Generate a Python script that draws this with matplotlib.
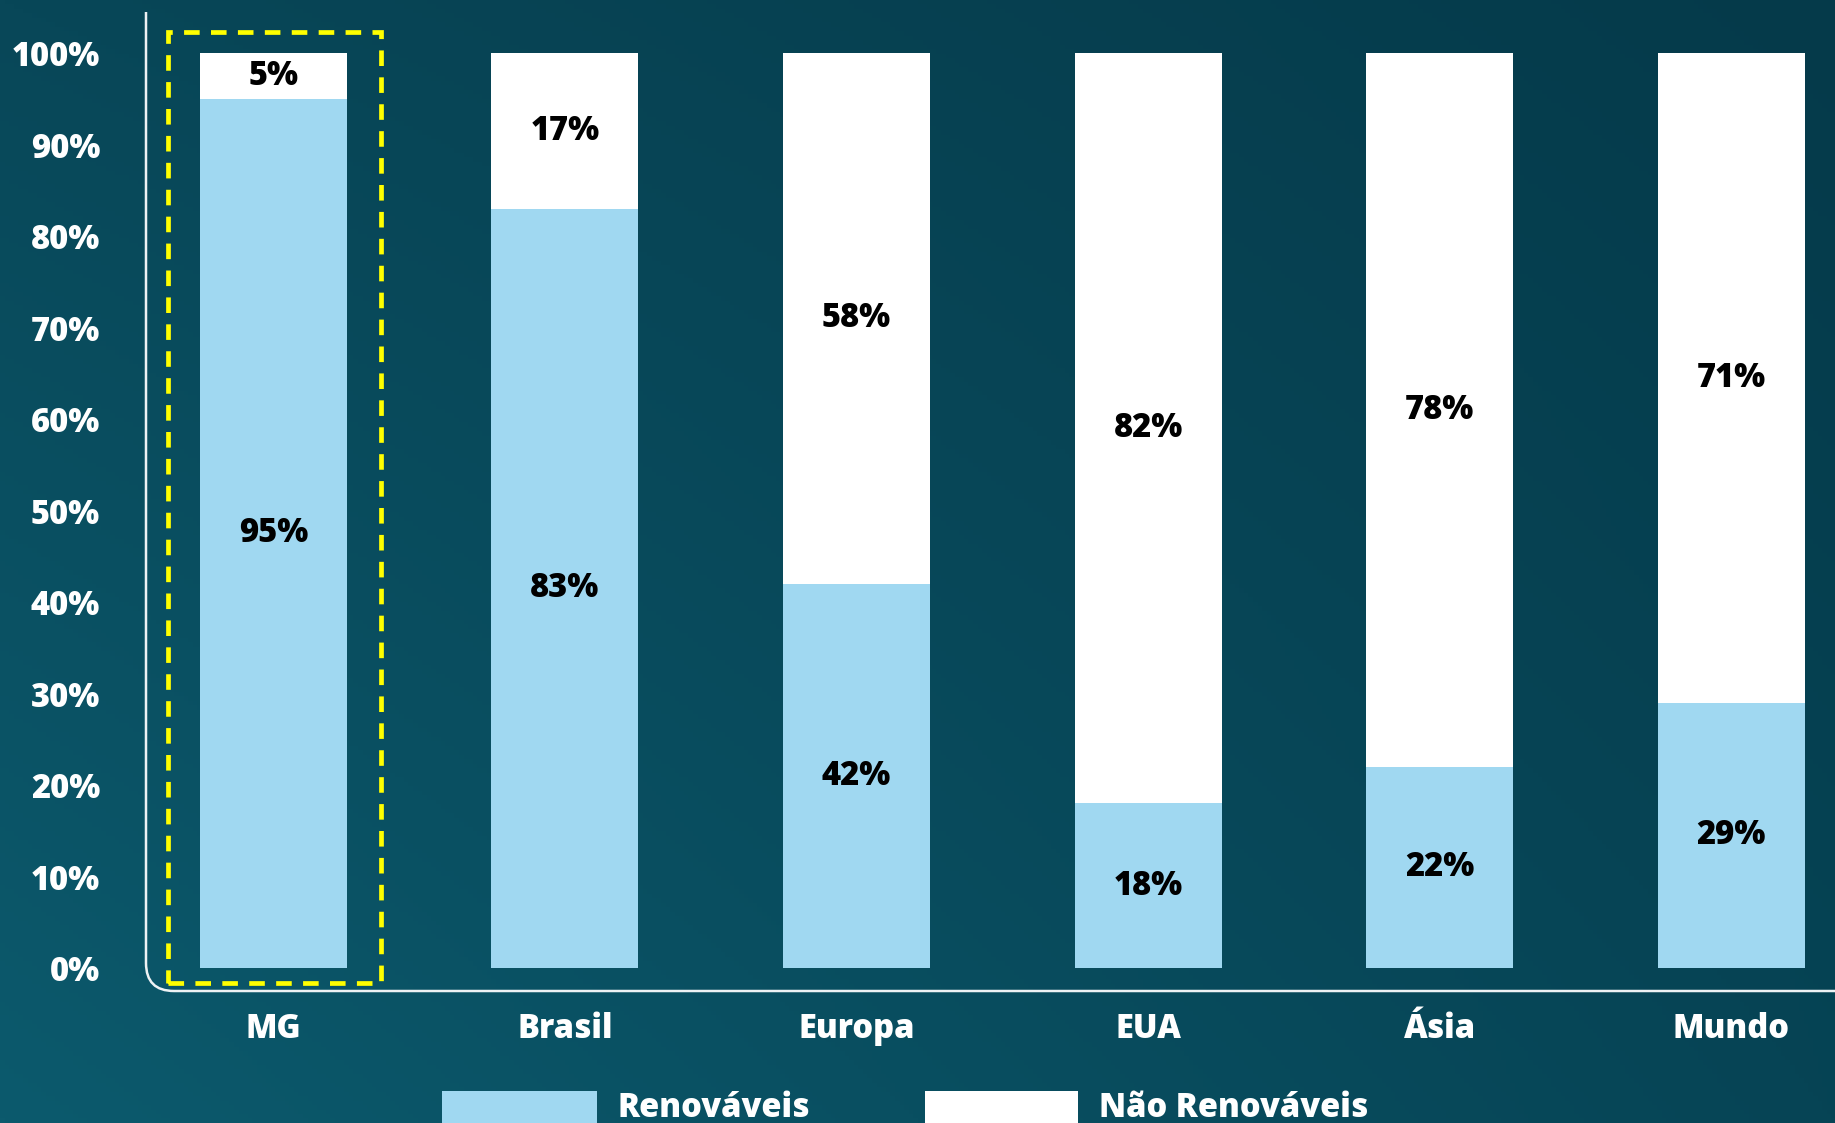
import numpy as np
import matplotlib.pyplot as plt
from matplotlib.patches import Rectangle, PathPatch
from matplotlib.path import Path

regions = ['MG', 'Brasil', 'Europa', 'EUA', 'Ásia', 'Mundo']
renovaveis = [95, 83, 42, 18, 22, 29]
nao_renovaveis = [5, 17, 58, 82, 78, 71]
yticks = list(range(0, 101, 10))

BLUE = '#a0d8f1'
FONT = ['Open Sans', 'DejaVu Sans']
FS = 23.5

W, H = 1835, 1123
fig = plt.figure(figsize=(W / 100, H / 100), dpi=100)


def fx(x):
    return x / W


def fy(y):
    return 1 - y / H


# teal background, darker toward the top right
bg = fig.add_axes([0, 0, 1, 1], zorder=-10)
gx, gy = np.meshgrid(np.linspace(0, 1, 400), np.linspace(0, 1, 250))
tl = np.array([0x08, 0x47, 0x58]) / 255
tr = np.array([0x05, 0x3a, 0x4a]) / 255
bl = np.array([0x0c, 0x5a, 0x6d]) / 255
br = np.array([0x06, 0x44, 0x55]) / 255
img = ((1 - gx)[..., None] * (1 - gy)[..., None] * tl + gx[..., None] * (1 - gy)[..., None] * tr
       + (1 - gx)[..., None] * gy[..., None] * bl + gx[..., None] * gy[..., None] * br)
bg.imshow(img, aspect='auto', extent=[0, 1, 0, 1], origin='upper')
bg.axis('off')

ax = fig.add_axes([fx(146), fy(991), 1 - fx(146), fy(12) - fy(991)])
ax.patch.set_alpha(0)
for s in ax.spines.values():
    s.set_visible(False)

x = np.arange(len(regions))
ax.bar(x, renovaveis, width=0.504, color=BLUE, linewidth=0)
ax.bar(x, nao_renovaveis, bottom=renovaveis, width=0.504, color='white', linewidth=0)
ax.set_xlim(-0.4366, 5.356)
ax.set_ylim(-2.51, 104.5)

for i in x:
    r, n = renovaveis[i], nao_renovaveis[i]
    ax.text(i, r / 2, f'{r}%', ha='center', va='center', fontsize=FS,
            fontweight=800, family=FONT, color='black')
    ax.text(i, r + n / 2, f'{n}%', ha='center', va='center', fontsize=FS,
            fontweight=800, family=FONT, color='black')

ax.set_yticks(yticks)
ax.set_yticklabels([f'{v}%' for v in yticks])
ax.set_xticks(x)
ax.set_xticklabels(regions)
ax.tick_params(axis='y', length=0, pad=33, labelsize=FS, labelcolor='white')
ax.tick_params(axis='x', length=0, pad=15, labelsize=FS, labelcolor='white')
for lab in ax.get_xticklabels() + ax.get_yticklabels():
    lab.set_fontweight(800)
    lab.set_family(FONT)

# highlight box around MG
ax.add_patch(Rectangle((-0.361, -1.64), 0.731, 103.9, fill=False,
                       edgecolor='#ffff00', linewidth=3.4,
                       linestyle=(0, (3.3, 2.4)), clip_on=False, zorder=5))

# axis line with a rounded corner
r = 28
verts = [(fx(146), fy(12)), (fx(146), fy(991 - r)), (fx(146), fy(991)),
         (fx(146 + r), fy(991)), (fx(W), fy(991))]
codes = [Path.MOVETO, Path.LINETO, Path.CURVE3, Path.CURVE3, Path.LINETO]
fig.add_artist(PathPatch(Path(verts, codes), fill=False, edgecolor='#eef2f4',
                         linewidth=1.8, transform=fig.transFigure))

# legend
for x0, x1, color, label, tx in [(442, 597, BLUE, 'Renováveis', 618),
                                  (925, 1078, 'white', 'Não Renováveis', 1099)]:
    fig.add_artist(Rectangle((fx(x0), fy(1126)), fx(x1 - x0), fy(1091) - fy(1126),
                             facecolor=color, edgecolor='none',
                             transform=fig.transFigure))
    fig.text(fx(tx), fy(1108), label, ha='left', va='center', fontsize=FS,
             fontweight=800, family=FONT, color='white')

fig.savefig('out.png', dpi=100)
